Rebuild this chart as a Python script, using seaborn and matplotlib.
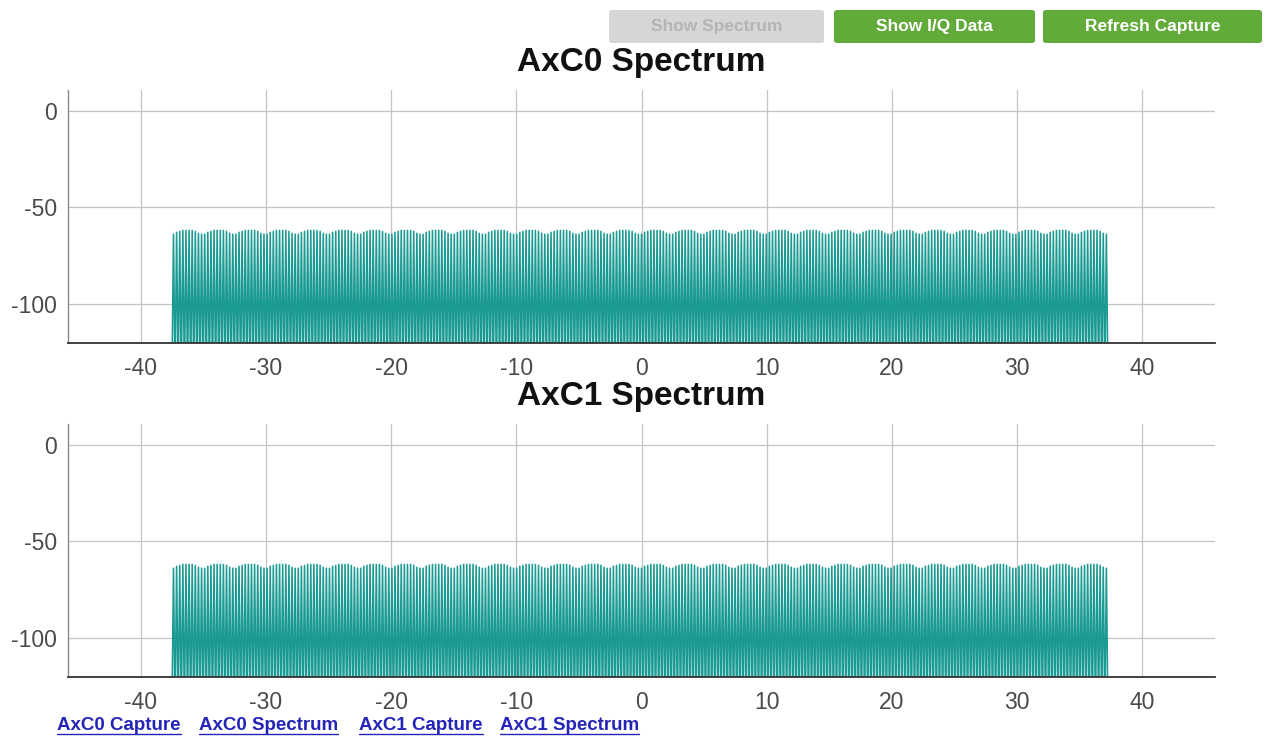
#!/usr/bin/env python3
# -*- coding: utf-8 -*-

"""
Recreate the two-channel spectrum page (AxC0 / AxC1) with seaborn.
"""

import numpy as np
import matplotlib.pyplot as plt
from matplotlib.patches import FancyBboxPatch
from matplotlib.lines import Line2D
import pandas as pd
import seaborn as sns


# Peak levels (dB) of one 2.5 MHz repeat of the comb
peak_period_db = [-64.0, -63.0, -62.5, -62.0, -62.0, -62.0, -62.0,
                  -62.5, -63.5, -64.0]
n_periods = 30
band_start = -37.5
band_stop = 37.25
floor_db = -140.0

channel_titles = ["AxC0 Spectrum", "AxC1 Spectrum"]
x_ticks = [-40, -30, -20, -10, 0, 10, 20, 30, 40]
y_ticks = [0, -50, -100]

buttons = ["Show Spectrum", "Show I/Q Data", "Refresh Capture"]
links = ["AxC0 Capture", "AxC0 Spectrum", "AxC1 Capture", "AxC1 Spectrum"]

W, H = 1265, 739
teal = "#1a9a92"


def build_frame():
    # each peak is a rise from the floor and a fall back to it
    peaks = np.tile(peak_period_db, n_periods)
    n_pts = 2 * len(peaks) + 1
    freq = np.linspace(band_start, band_stop, n_pts)
    level = np.full(n_pts, floor_db)
    level[1::2] = peaks
    return pd.DataFrame({"Frequency": freq, "Level": level})


def fig_box(px_left, px_top, px_right, px_bottom):
    return [px_left / W, 1 - px_bottom / H,
            (px_right - px_left) / W, (px_bottom - px_top) / H]


def main():
    sns.set_style("white")
    plt.rcParams['font.family'] = ['Liberation Sans', 'DejaVu Sans']
    plt.rcParams['axes.unicode_minus'] = False

    df = build_frame()

    fig = plt.figure(figsize=(W / 100, H / 100), dpi=100)

    ax_boxes = [fig_box(68, 90, 1215, 343), fig_box(68, 424, 1215, 677)]
    title_y = [62, 396]

    for title, box, ty in zip(channel_titles, ax_boxes, title_y):
        ax = fig.add_axes(box)
        sns.lineplot(ax=ax, data=df, x="Frequency", y="Level",
                     estimator=None, sort=False, color=teal,
                     linewidth=1.15, legend=False)
        ax.set_xlim(-45.8, 45.8)
        ax.set_ylim(-120.5, 10.9)
        ax.set_xticks(x_ticks)
        ax.set_yticks(y_ticks)
        ax.set_xlabel("")
        ax.set_ylabel("")
        ax.grid(True, color="#c4c4c4", linewidth=0.9)
        ax.set_axisbelow(True)
        ax.tick_params(length=0, labelsize=16.5, labelcolor="#4a4a4a")
        ax.tick_params(axis="x", pad=10)
        ax.tick_params(axis="y", pad=8)
        for side in ["top", "right"]:
            ax.spines[side].set_visible(False)
        ax.spines["left"].set_color("#8a8a8a")
        ax.spines["left"].set_linewidth(1.0)
        ax.spines["bottom"].set_color("#333333")
        ax.spines["bottom"].set_linewidth(1.3)
        fig.text(641 / W, 1 - ty / H, title, ha="center", va="center",
                 fontsize=24, fontweight="bold", color="#111111")

    # Buttons along the top right
    btn_pos = [(609, 824), (834, 1035), (1043, 1262)]
    btn_face = ["#d6d6d6", "#62aa3a", "#62aa3a"]
    btn_text = ["#b4b4b4", "white", "white"]
    for label, (x0, x1), fc, tc in zip(buttons, btn_pos, btn_face, btn_text):
        patch = FancyBboxPatch((x0 / W, 1 - 43 / H), (x1 - x0) / W, 33 / H,
                               boxstyle="round,pad=0,rounding_size=0.003",
                               transform=fig.transFigure, facecolor=fc,
                               edgecolor="none")
        fig.patches.append(patch)
        fig.text((x0 + x1) / 2 / W, 1 - 26 / H, label, ha="center",
                 va="center", fontsize=12.5, fontweight="bold", color=tc)

    # Underlined links at the bottom
    fig.canvas.draw()
    renderer = fig.canvas.get_renderer()
    link_x = [57, 199, 359, 500]
    for label, lx in zip(links, link_x):
        t = fig.text(lx / W, 1 - 726 / H, label, ha="left", va="center",
                     fontsize=13.5, fontweight="bold", color="#2424b8")
        bb = t.get_window_extent(renderer=renderer)
        uy = (bb.y0 + 1) / H
        fig.lines.append(Line2D([bb.x0 / W, bb.x1 / W], [uy, uy],
                                transform=fig.transFigure,
                                color="#2424b8", linewidth=1.0))

    plt.savefig("out.png", dpi=100)


if __name__ == '__main__':
    main()
